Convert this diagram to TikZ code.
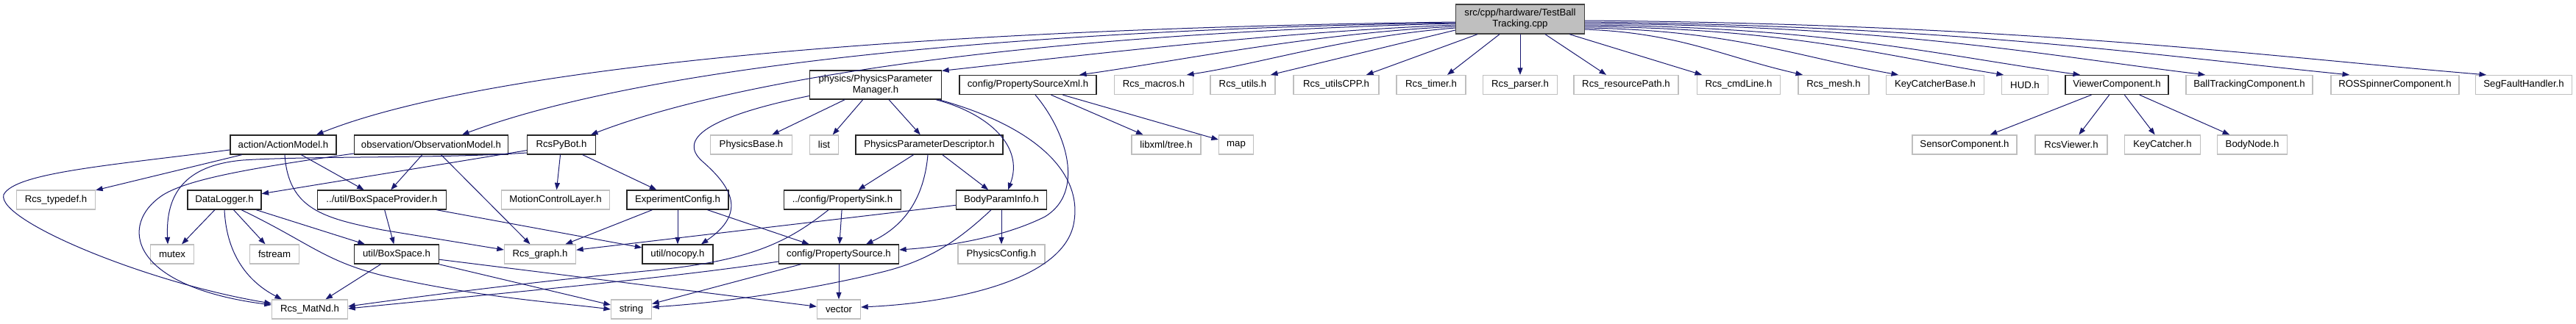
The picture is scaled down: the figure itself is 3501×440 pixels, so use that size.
\documentclass[tikz,border=0pt]{standalone}
\usepackage{fontspec}
\setmainfont{Liberation Sans}
\usetikzlibrary{arrows.meta,calc}
\definecolor{edgec}{HTML}{191970}
\definecolor{extc}{HTML}{BFBFBF}
\definecolor{rootfill}{HTML}{BFBFBF}
\definecolor{rootdraw}{HTML}{404040}
\begin{document}
\begin{tikzpicture}[x=1pt,y=-1pt,
  every node/.style={font=\fontsize{13.2}{15}\selectfont, inner sep=0pt, align=center, text=black},
  docbox/.style={draw=black!85, line width=1.3pt, fill=white, minimum height=26pt},
  extbox/.style={draw=extc, line width=1.3pt, fill=white, minimum height=26pt},
  rootbox/.style={draw=rootdraw, line width=1.3pt, fill=rootfill, minimum height=40pt},
  dep/.style={draw=edgec, line width=1pt, -{Triangle[length=9.5pt,width=7pt]}}]
\useasboundingbox (0,0) rectangle (3501,440);
% root
\node[rootbox, minimum width=175pt] (root) at (2066,26) {src/cpp/hardware/TestBall\\Tracking.cpp};
% row 1
\node[docbox, minimum width=179pt, minimum height=39pt] (ppm) at (1190,115.5) {physics/PhysicsParameter\\Manager.h};
\node[docbox, minimum width=186pt] (psxml) at (1397,115.5) {config/PropertySourceXml.h};
\node[extbox, minimum width=107pt] (mac) at (1568,115.5) {Rcs\_macros.h};
\node[extbox, minimum width=88pt] (uti) at (1689,115.5) {Rcs\_utils.h};
\node[extbox, minimum width=116pt] (ucpp) at (1816,115.5) {Rcs\_utilsCPP.h};
\node[extbox, minimum width=94pt] (tim) at (1945,115.5) {Rcs\_timer.h};
\node[extbox, minimum width=101pt] (par) at (2066,115.5) {Rcs\_parser.h};
\node[extbox, minimum width=142pt] (rp) at (2210,115.5) {Rcs\_resourcePath.h};
\node[extbox, minimum width=113pt] (cmd) at (2363,115.5) {Rcs\_cmdLine.h};
\node[extbox, minimum width=96pt] (mesh) at (2492,115.5) {Rcs\_mesh.h};
\node[extbox, minimum width=133pt] (kcb) at (2630,115.5) {KeyCatcherBase.h};
\node[extbox, minimum width=63pt] (hud) at (2752,115.5) {HUD.h};
\node[docbox, minimum width=140pt] (view) at (2877,115.5) {ViewerComponent.h};
\node[extbox, minimum width=172pt] (ball) at (3057,115.5) {BallTrackingComponent.h};
\node[extbox, minimum width=174pt] (ros) at (3255,115.5) {ROSSpinnerComponent.h};
\node[extbox, minimum width=131pt] (seg) at (3430,115.5) {SegFaultHandler.h};
% row 2
\node[docbox, minimum width=144pt] (act) at (385,197) {action/ActionModel.h};
\node[docbox, minimum width=209pt] (obs) at (586,197) {observation/ObservationModel.h};
\node[docbox, minimum width=93pt] (pybot) at (763,197) {RcsPyBot.h};
\node[extbox, minimum width=111pt] (pbase) at (1021,197) {PhysicsBase.h};
\node[extbox, minimum width=39pt] (list) at (1120,197) {list};
\node[docbox, minimum width=200pt] (ppd) at (1263,197) {PhysicsParameterDescriptor.h};
\node[extbox, minimum width=94pt] (xml) at (1585,197) {libxml/tree.h};
\node[extbox, minimum width=47pt] (map) at (1680,197) {map};
\node[extbox, minimum width=142pt] (sens) at (2670,197) {SensorComponent.h};
\node[extbox, minimum width=98pt] (rview) at (2815,197) {RcsViewer.h};
\node[extbox, minimum width=103pt] (kc) at (2939,197) {KeyCatcher.h};
\node[extbox, minimum width=95pt] (bnode) at (3061,197) {BodyNode.h};
% row 3
\node[extbox, minimum width=107pt] (tdef) at (76,272) {Rcs\_typedef.h};
\node[docbox, minimum width=100pt] (dl) at (305,272) {DataLogger.h};
\node[docbox, minimum width=175pt] (bsp) at (519,272) {../util/BoxSpaceProvider.h};
\node[extbox, minimum width=147pt] (mcl) at (755,272) {MotionControlLayer.h};
\node[docbox, minimum width=138pt] (ec) at (921,272) {ExperimentConfig.h};
\node[docbox, minimum width=159pt] (psink) at (1145,272) {../config/PropertySink.h};
\node[docbox, minimum width=123pt] (bpi) at (1361,272) {BodyParamInfo.h};
% row 4
\node[extbox, minimum width=59pt] (mutex) at (234,346) {mutex};
\node[extbox, minimum width=67pt] (fstr) at (373,346) {fstream};
\node[docbox, minimum width=115pt] (bs) at (539,346) {util/BoxSpace.h};
\node[extbox, minimum width=97pt] (graph) at (734,346) {Rcs\_graph.h};
\node[docbox, minimum width=96pt] (nocopy) at (921,346) {util/nocopy.h};
\node[docbox, minimum width=163pt] (psrc) at (1140,346) {config/PropertySource.h};
\node[extbox, minimum width=118pt] (pcfg) at (1361,346) {PhysicsConfig.h};
% row 5
\node[extbox, minimum width=103pt] (mat) at (421,421) {Rcs\_MatNd.h};
\node[extbox, minimum width=55pt] (str) at (858,421) {string};
\node[extbox, minimum width=59pt] (vec) at (1140,421) {vector};

% ---- root edges, left
\draw[dep] ($(root.west)+(0,4)$) .. controls (1200,40) and (650,95) .. ($(act.north)+(45,0)$);
\draw[dep] ($(root.west)+(0,5)$) .. controls (1300,42) and (850,100) .. ($(obs.north)+(42,0)$);
\draw[dep] ($(root.west)+(0,6)$) .. controls (1350,48) and (980,115) .. ($(pybot.north)+(40,0)$);
\draw[dep] ($(root.west)+(0,8)$) .. controls +(-250,10) and +(200,-22) .. ($(ppm.north east)+(0,1)$);
\draw[dep] ($(root.west)+(0,10)$) .. controls +(-200,10) and +(130,-18) .. ($(psxml.north)+(70,0)$);
\draw[dep] ($(root.west)+(0,12)$) .. controls +(-150,12) and +(100,-15) .. ($(mac.north)+(45,0)$);
\draw[dep] ($(root.west)+(0,15)$) -- ($(uti.north)+(38,0)$);
\draw[dep] ($(root.south)+(-58,0)$) -- ($(ucpp.north)+(41,0)$);
\draw[dep] ($(root.south)+(-28,0)$) -- ($(tim.north)+(22,0)$);
\draw[dep] (root.south) -- (par.north);
% ---- root edges, right
\draw[dep] ($(root.south)+(34,0)$) -- ($(rp.north)+(-27,0)$);
\draw[dep] ($(root.south)+(67,0)$) -- ($(cmd.north)+(-50,0)$);
\draw[dep] ($(root.east)+(0,14)$) .. controls +(130,5) and +(-110,-25) .. ($(mesh.north)+(-42,0)$);
\draw[dep] ($(root.east)+(0,12)$) .. controls +(200,3) and +(-140,-25) .. ($(kcb.north)+(-50,0)$);
\draw[dep] ($(root.east)+(0,10)$) .. controls +(280,3) and +(-170,-27) .. ($(hud.north)+(-29,0)$);
\draw[dep] ($(root.east)+(0,8)$) .. controls +(330,3) and +(-200,-28) .. ($(view.north)+(-50,0)$);
\draw[dep] ($(root.east)+(0,6)$) .. controls +(420,3) and +(-230,-28) .. ($(ball.north)+(-60,0)$);
\draw[dep] ($(root.east)+(0,4)$) .. controls +(500,5) and +(-280,-28) .. ($(ros.north)+(-62,0)$);
\draw[dep] ($(root.east)+(0,2)$) .. controls +(600,5) and +(-300,-25) .. ($(seg.north)+(-51,0)$);

% ---- ActionModel
\draw[dep] ($(act.west)+(0,7)$) .. controls (150,225) and (20,235) .. (5,265) .. controls (-5,300) and (200,385) .. ($(mat.west)+(0,-8)$);
\draw[dep] (act) -- (tdef);
\draw[dep] (act) -- (bsp);
\draw[dep] ($(act.south)+(2,0)$) .. controls (392,285) and (440,297) .. (520,313) -- ($(graph.west)+(0,-6)$);
% ---- ObservationModel
\draw[dep] ($(obs.west)+(0,12)$) .. controls (330,230) and (255,245) .. (222,265) .. controls (160,305) and (175,390) .. ($(mat.west)+(0,-6)$);
\draw[dep] (obs) -- (bsp);
\draw[dep] (obs) -- (graph);
% ---- RcsPyBot
\draw[dep] ($(pybot.west)+(0,11)$) .. controls (600,216) and (420,212) .. (330,218) .. controls (250,225) and (225,265) .. ($(mutex.north)+(-6,0)$);
\draw[dep] (pybot) -- (dl);
\draw[dep] (pybot) -- (mcl);
\draw[dep] (pybot) -- (ec);
% ---- DataLogger
\draw[dep] (dl) -- (mutex);
\draw[dep] (dl) -- (fstr);
\draw[dep] (dl.south) .. controls (308,350) and (340,385) .. ($(mat.north)+(-38,0)$);
\draw[dep] (dl) -- (bs);
\draw[dep] ($(dl.south)+(23,0)$) .. controls (420,330) and (440,355) .. (520,375) .. controls (650,405) and (760,412) .. (str.west);
% ---- BoxSpaceProvider
\draw[dep] (bsp) -- (bs);
\draw[dep] (bsp) -- (nocopy);
% ---- BoxSpace
\draw[dep] (bs) -- (mat);
\draw[dep] (bs) -- ($(str.west)+(0,-6)$);
\draw[dep] (bs) -- (vec);
% ---- ExperimentConfig
\draw[dep] (ec) -- (graph);
\draw[dep] (ec) -- (nocopy);
\draw[dep] (ec) -- (psrc);
% ---- PhysicsParameterManager
\draw[dep] (ppm) -- (pbase);
\draw[dep] (ppm) -- (list);
\draw[dep] (ppm) -- (ppd);
\draw[dep] ($(ppm.south)+(82,0)$) .. controls (1345,155) and (1392,200) .. ($(bpi.north)+(9,0)$);
\draw[dep] ($(ppm.south)+(86,0)$) .. controls (1400,170) and (1470,230) .. (1460,300) .. controls (1450,380) and (1300,412) .. ($(vec.east)+(0,-3)$);
\draw[dep] ($(ppm.west)+(0,15)$) .. controls (980,155) and (915,185) .. (955,220) .. controls (995,255) and (1015,290) .. ($(nocopy.north)+(32,0)$);
% ---- PhysicsParameterDescriptor
\draw[dep] (ppd) -- (psink);
\draw[dep] ($(ppd.south)+(-2,0)$) .. controls (1255,280) and (1220,312) .. ($(psrc.north)+(37,0)$);
\draw[dep] (ppd) -- (bpi);
% ---- PropertySink
\draw[dep] (psink) -- (psrc);
\draw[dep] ($(psink.south)+(-19,0)$) .. controls (1070,330) and (1020,355) .. (887,368) .. controls (700,386) and (560,405) .. ($(mat.east)+(0,-4)$);
% ---- PropertySource
\draw[dep] ($(psrc.west)+(0,10)$) .. controls (900,380) and (650,402) .. ($(mat.east)+(0,-1)$);
\draw[dep] (psrc) -- (str);
\draw[dep] (psrc) -- (vec);
% ---- BodyParamInfo
\draw[dep] (bpi) -- (graph);
\draw[dep] (bpi) -- (pcfg);
\draw[dep] ($(bpi.south)+(-14,0)$) .. controls (1300,330) and (1260,355) .. (1200,370) .. controls (1100,395) and (980,412) .. ($(str.east)+(0,-3)$);
% ---- PropertySourceXml
\draw[dep] (psxml) -- (xml);
\draw[dep] (psxml) -- (map);
\draw[dep] ($(psxml.south)+(10,0)$) .. controls (1450,180) and (1475,262) .. (1420,295) .. controls (1360,325) and (1280,336) .. ($(psrc.east)+(0,-6)$);
% ---- ViewerComponent
\draw[dep] (view) -- (sens);
\draw[dep] (view) -- (rview);
\draw[dep] (view) -- (kc);
\draw[dep] (view) -- (bnode);
\end{tikzpicture}
\end{document}
